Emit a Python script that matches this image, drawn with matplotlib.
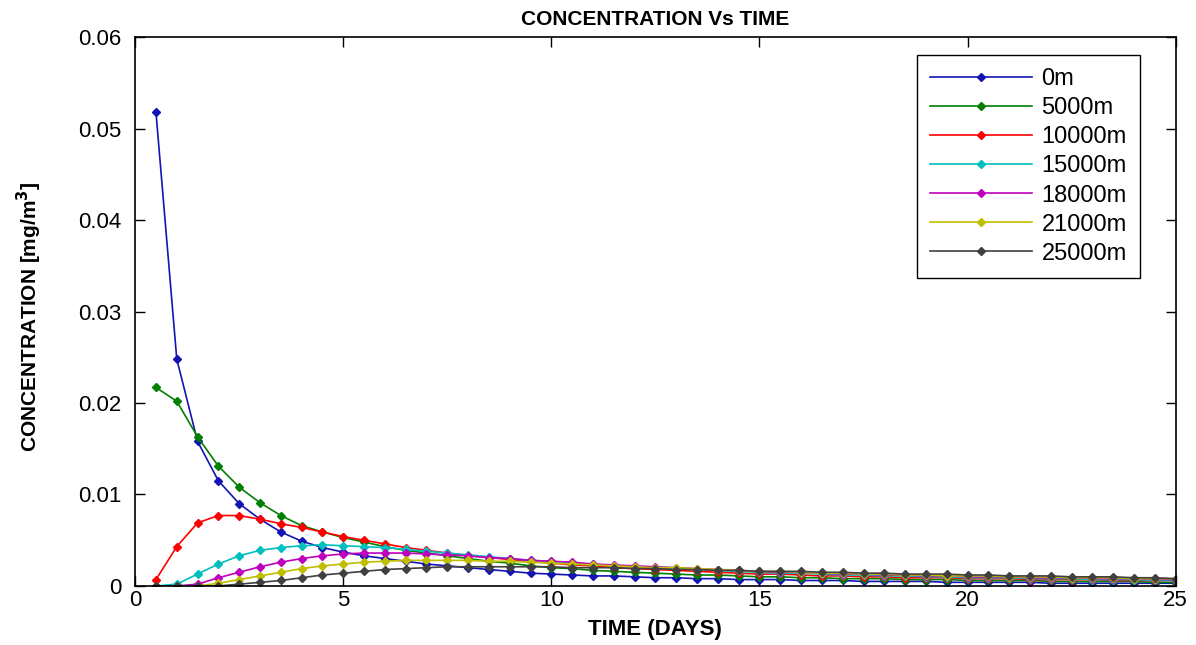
import numpy as np
import matplotlib
matplotlib.use("Agg")
import matplotlib.pyplot as plt

# time axis (days)
days = [0.5 * k for k in range(1, 51)]

labels = ["0m", "5000m", "10000m", "15000m", "18000m", "21000m", "25000m"]

c_0m = [0.0518, 0.0248, 0.0158, 0.0115, 0.0090, 0.0073, 0.0059, 0.0049, 0.0042, 0.0037,
        0.0033, 0.0030, 0.0027, 0.0024, 0.0022, 0.0020, 0.0018, 0.0016, 0.0014, 0.0013,
        0.0012, 0.0011, 0.0011, 0.0010, 0.0009, 0.0009, 0.0008, 0.0008, 0.0007, 0.0007,
        0.0007, 0.0006, 0.0006, 0.0006, 0.0005, 0.0005, 0.0005, 0.0005, 0.0004, 0.0004,
        0.0004, 0.0004, 0.0004, 0.0003, 0.0003, 0.0003, 0.0003, 0.0003, 0.0003, 0.0003]
c_5000m = [0.0217, 0.0202, 0.0163, 0.0131, 0.0108, 0.0091, 0.0077, 0.0066, 0.0059, 0.0053,
           0.0048, 0.0043, 0.0039, 0.0036, 0.0033, 0.0030, 0.0027, 0.0025, 0.0022, 0.0020,
           0.0019, 0.0017, 0.0016, 0.0015, 0.0014, 0.0013, 0.0012, 0.0012, 0.0011, 0.0010,
           0.0010, 0.0009, 0.0009, 0.0008, 0.0008, 0.0008, 0.0007, 0.0007, 0.0007, 0.0006,
           0.0006, 0.0006, 0.0006, 0.0005, 0.0005, 0.0005, 0.0005, 0.0005, 0.0004, 0.0004]
c_10000m = [0.0007, 0.0043, 0.0069, 0.0077, 0.0077, 0.0073, 0.0068, 0.0064, 0.0059, 0.0054,
            0.0050, 0.0046, 0.0042, 0.0039, 0.0036, 0.0033, 0.0031, 0.0029, 0.0027, 0.0025,
            0.0023, 0.0022, 0.0020, 0.0019, 0.0018, 0.0017, 0.0016, 0.0015, 0.0014, 0.0013,
            0.0013, 0.0012, 0.0011, 0.0011, 0.0010, 0.0010, 0.0009, 0.0009, 0.0009, 0.0008,
            0.0008, 0.0008, 0.0007, 0.0007, 0.0007, 0.0007, 0.0006, 0.0006, 0.0006, 0.0006]
c_15000m = [0.0000, 0.0002, 0.0013, 0.0024, 0.0033, 0.0039, 0.0042, 0.0044, 0.0045, 0.0044,
            0.0043, 0.0042, 0.0040, 0.0038, 0.0036, 0.0034, 0.0032, 0.0030, 0.0028, 0.0027,
            0.0025, 0.0024, 0.0022, 0.0021, 0.0020, 0.0019, 0.0018, 0.0017, 0.0016, 0.0015,
            0.0014, 0.0014, 0.0013, 0.0012, 0.0012, 0.0011, 0.0011, 0.0010, 0.0010, 0.0009,
            0.0009, 0.0009, 0.0008, 0.0008, 0.0008, 0.0007, 0.0007, 0.0007, 0.0006, 0.0006]
c_18000m = [0.0000, 0.0000, 0.0002, 0.0009, 0.0015, 0.0021, 0.0026, 0.0030, 0.0033, 0.0035,
            0.0036, 0.0036, 0.0036, 0.0035, 0.0034, 0.0033, 0.0031, 0.0030, 0.0028, 0.0027,
            0.0026, 0.0024, 0.0023, 0.0022, 0.0021, 0.0020, 0.0019, 0.0018, 0.0017, 0.0016,
            0.0015, 0.0015, 0.0014, 0.0013, 0.0013, 0.0012, 0.0012, 0.0011, 0.0011, 0.0010,
            0.0010, 0.0010, 0.0009, 0.0009, 0.0009, 0.0008, 0.0008, 0.0008, 0.0007, 0.0007]
c_21000m = [0.0000, 0.0000, 0.0000, 0.0003, 0.0007, 0.0011, 0.0015, 0.0019, 0.0022, 0.0024,
            0.0026, 0.0027, 0.0028, 0.0028, 0.0028, 0.0028, 0.0027, 0.0027, 0.0026, 0.0025,
            0.0024, 0.0023, 0.0022, 0.0021, 0.0020, 0.0020, 0.0019, 0.0018, 0.0017, 0.0016,
            0.0016, 0.0015, 0.0014, 0.0014, 0.0013, 0.0013, 0.0012, 0.0012, 0.0011, 0.0011,
            0.0011, 0.0010, 0.0010, 0.0010, 0.0009, 0.0009, 0.0009, 0.0008, 0.0008, 0.0008]
c_25000m = [0.0000, 0.0000, 0.0000, 0.0000, 0.0002, 0.0004, 0.0006, 0.0009, 0.0012, 0.0014,
            0.0016, 0.0018, 0.0019, 0.0020, 0.0021, 0.0021, 0.0021, 0.0021, 0.0021, 0.0021,
            0.0020, 0.0020, 0.0020, 0.0019, 0.0019, 0.0018, 0.0018, 0.0017, 0.0017, 0.0016,
            0.0016, 0.0016, 0.0015, 0.0015, 0.0014, 0.0014, 0.0013, 0.0013, 0.0013, 0.0012,
            0.0012, 0.0011, 0.0011, 0.0011, 0.0010, 0.0010, 0.0010, 0.0009, 0.0009, 0.0008]

series = [c_0m, c_5000m, c_10000m, c_15000m, c_18000m, c_21000m, c_25000m]

# old matlab colour order
colors = ["#1414b4", "#007f00", "#ff0000", "#00bfbf", "#bf00bf", "#bfbf00", "#404040"]

plt.rcParams["font.family"] = ["Liberation Sans", "DejaVu Sans"]

fig = plt.figure(figsize=(11.96, 6.45), dpi=100)
ax = fig.add_axes([0.113, 0.0915, 0.870, 0.851])

for vals, lab, col in zip(series, labels, colors):
    ax.plot(days, vals, color=col, marker="D", markersize=4.5, linewidth=1.2, label=lab)

ax.set_xlim(0, 25)
ax.set_ylim(0, 0.06)
ax.set_xticks(np.arange(0, 26, 5))
ax.set_yticks(np.arange(0, 0.061, 0.01))
ax.set_yticklabels(["0", "0.01", "0.02", "0.03", "0.04", "0.05", "0.06"])
ax.tick_params(direction="in", top=True, right=True, length=7, width=1, labelsize=16)
ax.tick_params(axis="y", pad=10)
ax.tick_params(axis="x", pad=3)
for sp in ax.spines.values():
    sp.set_linewidth(1.2)

ax.set_title("CONCENTRATION Vs TIME", fontsize=15, fontweight="bold", pad=9)
ax.set_xlabel("TIME (DAYS)", fontsize=16, fontweight="bold")
ax.xaxis.set_label_coords(0.5, -0.060)
ax.set_ylabel(r"CONCENTRATION [mg/m$^\mathbf{3}$]", fontsize=15, fontweight="bold")
ax.yaxis.set_label_coords(-0.088, 0.49)

leg = ax.legend(loc="upper right", bbox_to_anchor=(0.9654, 0.967), borderaxespad=0,
                fontsize=17, handlelength=4.3, handletextpad=0.4, labelspacing=0.3,
                borderpad=0.55, fancybox=False, framealpha=1, edgecolor="black")
leg.get_frame().set_linewidth(1.0)

plt.savefig("out.png", dpi=100)
